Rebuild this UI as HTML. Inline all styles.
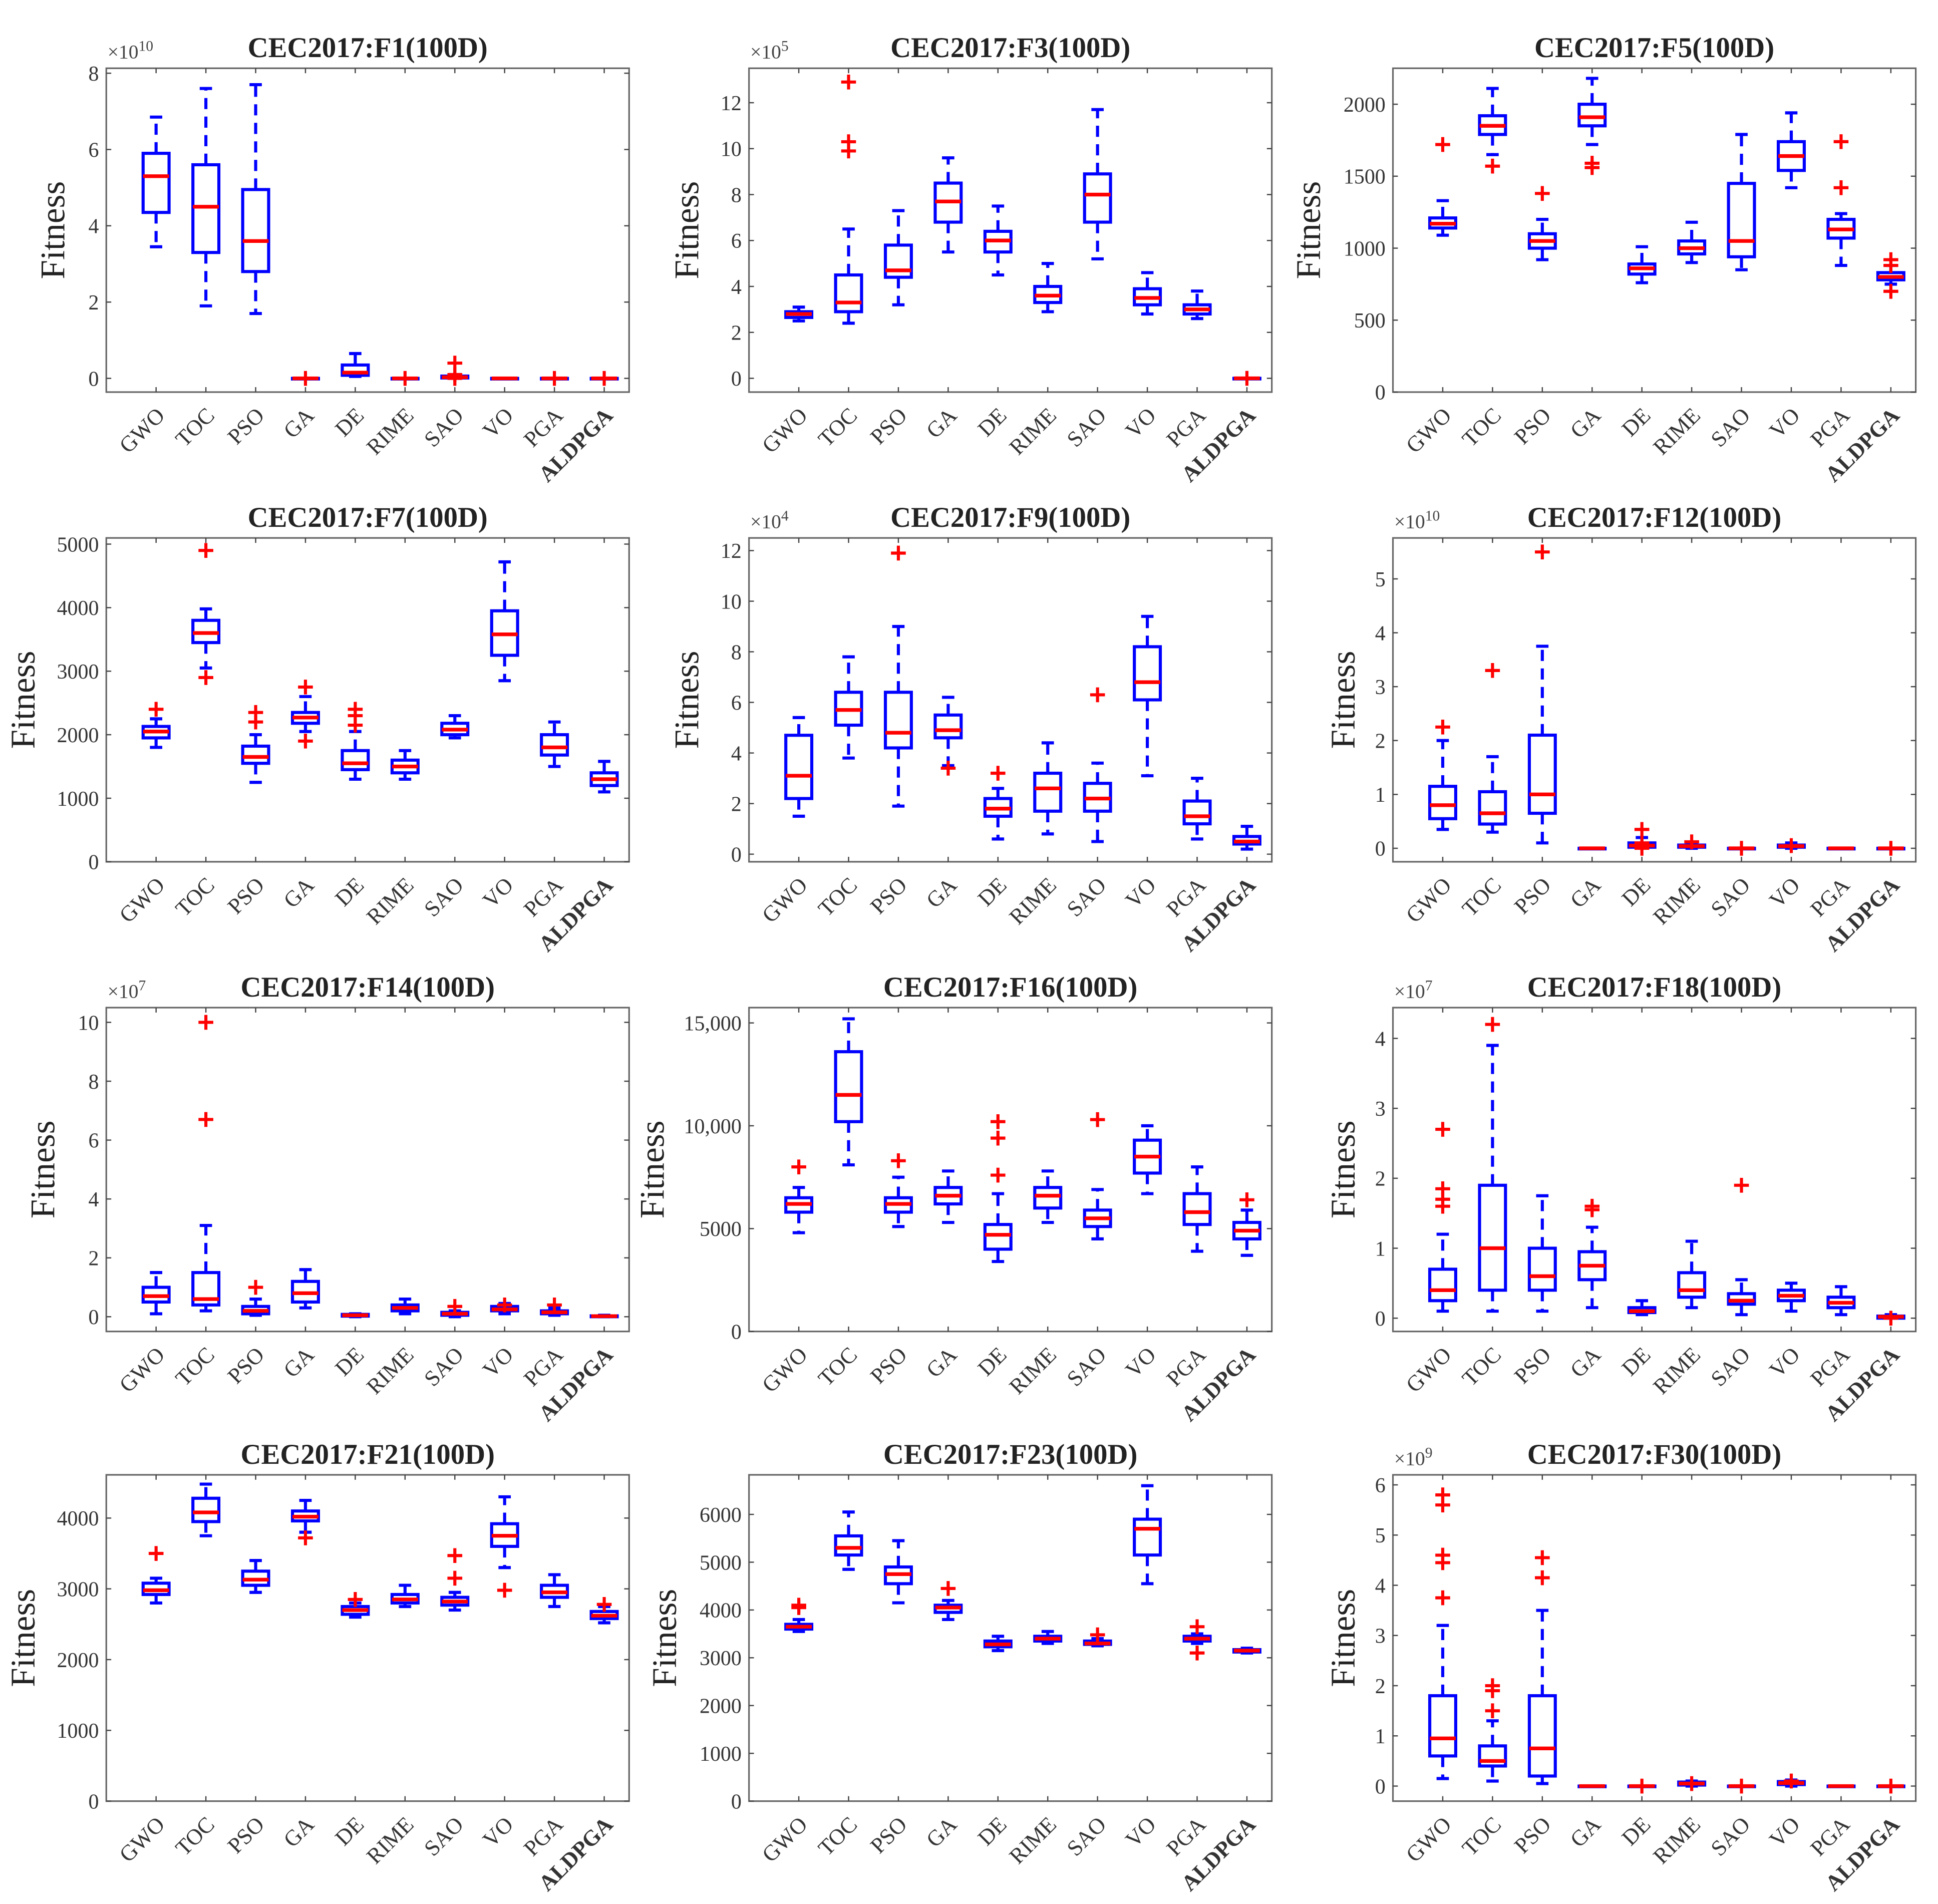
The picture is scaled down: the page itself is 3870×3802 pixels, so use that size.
<!DOCTYPE html>
<html><head><meta charset="utf-8"><style>
html,body{margin:0;padding:0;background:#fff;}
svg{display:block;font-family:"Liberation Serif",serif;}
</style></head><body>
<svg id="chart" xmlns="http://www.w3.org/2000/svg" width="3870" height="3802" viewBox="0 0 1568 1540"></svg>
<script>
const categories = ["GWO","TOC","PSO","GA","DE","RIME","SAO","VO","PGA","ALDPGA"];
// each stat: [lowWhisker, q1, median, q3, highWhisker, [outliers]]
const f1Stats = [[3.45,4.35,5.3,5.9,6.85,[]],[1.9,3.3,4.5,5.6,7.6,[]],[1.7,2.8,3.6,4.95,7.7,[]],[0,0,0,0,0,[0]],[0.05,0.08,0.15,0.35,0.65,[]],[0,0,0,0,0,[0]],[0,0.01,0.03,0.06,0.1,[0.4,0.1,0]],[0,0,0,0,0,[]],[0,0,0,0,0,[0]],[0,0,0,0,0,[0]]];
const f3Stats = [[2.5,2.65,2.8,2.9,3.1,[]],[2.4,2.9,3.3,4.5,6.5,[12.9,10.3,9.9]],[3.2,4.4,4.7,5.8,7.3,[]],[5.5,6.8,7.7,8.5,9.6,[]],[4.5,5.5,6.0,6.4,7.5,[]],[2.9,3.3,3.6,4.0,5.0,[]],[5.2,6.8,8.0,8.9,11.7,[]],[2.8,3.2,3.5,3.9,4.6,[]],[2.6,2.8,3.0,3.2,3.8,[]],[0,0,0,0,0,[0]]];
const f5Stats = [[1090,1140,1170,1210,1330,[1720]],[1650,1790,1850,1920,2110,[1570]],[920,1000,1050,1100,1200,[1380]],[1720,1850,1910,2000,2180,[1590,1560]],[760,820,860,890,1010,[]],[900,960,1000,1050,1180,[]],[850,940,1050,1450,1790,[]],[1420,1540,1640,1740,1940,[]],[880,1070,1130,1200,1240,[1740,1420]],[750,780,800,830,880,[920,880,700]]];
const f7Stats = [[1800,1950,2050,2130,2250,[2400]],[3050,3450,3600,3800,3980,[4900,2900]],[1250,1550,1650,1820,2000,[2350,2200]],[2050,2180,2270,2350,2600,[2750,1900]],[1300,1450,1550,1750,2050,[2400,2300,2150]],[1300,1400,1500,1600,1750,[]],[1950,2000,2080,2180,2300,[]],[2850,3250,3580,3950,4720,[]],[1500,1680,1800,2000,2200,[]],[1100,1200,1300,1400,1580,[]]];
const f9Stats = [[1.5,2.2,3.1,4.7,5.4,[]],[3.8,5.1,5.7,6.4,7.8,[]],[1.9,4.2,4.8,6.4,9.0,[11.9]],[3.5,4.6,4.9,5.5,6.2,[3.4]],[0.6,1.5,1.8,2.2,2.6,[3.2]],[0.8,1.7,2.6,3.2,4.4,[]],[0.5,1.7,2.2,2.8,3.6,[6.3]],[3.1,6.1,6.8,8.2,9.4,[]],[0.6,1.2,1.5,2.1,3.0,[]],[0.2,0.4,0.5,0.7,1.1,[]]];
const f12Stats = [[0.35,0.55,0.8,1.15,2.0,[2.25]],[0.3,0.45,0.65,1.05,1.7,[3.3]],[0.1,0.65,1.0,2.1,3.75,[5.5]],[0,0,0,0,0,[]],[0,0.02,0.05,0.1,0.2,[0.35,0.1,0]],[0,0.02,0.04,0.06,0.1,[0.12]],[0,0,0,0,0,[0]],[0,0.02,0.04,0.06,0.1,[0.05]],[0,0,0,0,0,[]],[0,0,0,0,0,[0]]];
const f14Stats = [[0.1,0.5,0.7,1.0,1.5,[]],[0.2,0.4,0.6,1.5,3.1,[10,6.7]],[0.05,0.1,0.2,0.35,0.6,[1.0]],[0.3,0.5,0.8,1.2,1.6,[]],[0,0.02,0.05,0.08,0.1,[]],[0.1,0.2,0.3,0.4,0.6,[]],[0,0.05,0.1,0.15,0.2,[0.35]],[0.1,0.2,0.25,0.35,0.45,[0.4]],[0.05,0.1,0.15,0.2,0.3,[0.4]],[0,0,0.02,0.03,0.05,[]]];
const f16Stats = [[4800,5800,6200,6500,7000,[8000]],[8100,10200,11500,13600,15200,[]],[5100,5800,6200,6500,7500,[8300]],[5300,6200,6600,7000,7800,[]],[3400,4000,4700,5200,6700,[10200,9400,7600]],[5300,6000,6600,7000,7800,[]],[4500,5100,5500,5900,6900,[10300]],[6700,7700,8500,9300,10000,[]],[3900,5200,5800,6700,8000,[]],[3700,4500,4900,5300,5900,[6400]]];
const f18Stats = [[0.1,0.25,0.4,0.7,1.2,[2.7,1.85,1.7,1.6]],[0.1,0.4,1.0,1.9,3.9,[4.2]],[0.1,0.4,0.6,1.0,1.75,[]],[0.15,0.55,0.75,0.95,1.3,[1.6,1.55]],[0.05,0.08,0.1,0.15,0.25,[]],[0.15,0.3,0.4,0.65,1.1,[]],[0.05,0.2,0.25,0.35,0.55,[1.9]],[0.1,0.25,0.32,0.4,0.5,[]],[0.05,0.15,0.22,0.3,0.45,[]],[0,0,0.02,0.03,0.05,[0]]];
const f21Stats = [[2800,2920,2980,3080,3150,[3500]],[3750,3950,4080,4280,4480,[]],[2950,3050,3130,3250,3400,[]],[3800,3960,4020,4100,4250,[3720]],[2600,2640,2700,2750,2800,[2850]],[2750,2800,2850,2920,3050,[]],[2700,2770,2820,2880,2950,[3470,3150]],[3300,3600,3750,3920,4300,[2980]],[2750,2880,2950,3050,3200,[]],[2520,2580,2620,2680,2750,[2780]]];
const f23Stats = [[3550,3600,3650,3700,3800,[4050,4100]],[4850,5150,5300,5550,6050,[]],[4150,4550,4750,4900,5450,[]],[3800,3950,4050,4100,4200,[4450]],[3150,3230,3280,3350,3450,[]],[3300,3350,3400,3450,3550,[]],[3250,3280,3300,3350,3400,[3480]],[4550,5150,5700,5900,6600,[]],[3300,3350,3400,3450,3500,[3650,3100]],[3100,3120,3150,3170,3200,[]]];
const f30Stats = [[0.15,0.6,0.95,1.8,3.2,[5.8,5.6,4.6,4.45,3.75]],[0.1,0.4,0.5,0.8,1.3,[2.0,1.9,1.5]],[0.05,0.2,0.75,1.8,3.5,[4.55,4.15]],[0,0,0,0,0,[]],[0,0,0,0,0,[0]],[0,0.02,0.05,0.08,0.1,[0.05]],[0,0,0,0,0,[0]],[0,0.03,0.06,0.09,0.12,[0.1]],[0,0,0,0,0,[]],[0,0,0,0,0,[0]]];
const f1Ticks=[0,2,4,6,8], f3Ticks=[0,2,4,6,8,10,12], f5Ticks=[0,500,1000,1500,2000], f7Ticks=[0,1000,2000,3000,4000,5000];
const f9Ticks=[0,2,4,6,8,10,12], f12Ticks=[0,1,2,3,4,5], f14Ticks=[0,2,4,6,8,10], f16Ticks=[0,5000,10000,15000];
const f16TickLabels=["0","5000","10,000","15,000"];
const f18Ticks=[0,1,2,3,4], f21Ticks=[0,1000,2000,3000,4000], f23Ticks=[0,1000,2000,3000,4000,5000,6000], f30Ticks=[0,1,2,3,4,5,6];

const panels = [
 {t:"CEC2017:F1(100D)",c:0,r:0,ymin:-0.36,ymax:8.13,ticks:f1Ticks,exp:"10",yl:52,d:f1Stats},
 {t:"CEC2017:F3(100D)",c:1,r:0,ymin:-0.6,ymax:13.5,ticks:f3Ticks,exp:"5",yl:565,d:f3Stats},
 {t:"CEC2017:F5(100D)",c:2,r:0,ymin:0,ymax:2250,ticks:f5Ticks,exp:null,yl:1068,d:f5Stats},
 {t:"CEC2017:F7(100D)",c:0,r:1,ymin:0,ymax:5097,ticks:f7Ticks,exp:null,yl:28,d:f7Stats},
 {t:"CEC2017:F9(100D)",c:1,r:1,ymin:-0.3,ymax:12.5,ticks:f9Ticks,exp:"4",yl:565,d:f9Stats},
 {t:"CEC2017:F12(100D)",c:2,r:1,ymin:-0.25,ymax:5.76,ticks:f12Ticks,exp:"10",yl:1096,d:f12Stats},
 {t:"CEC2017:F14(100D)",c:0,r:2,ymin:-0.5,ymax:10.5,ticks:f14Ticks,exp:"7",yl:44,d:f14Stats},
 {t:"CEC2017:F16(100D)",c:1,r:2,ymin:0,ymax:15744,ticks:f16Ticks,labels:f16TickLabels,exp:null,yl:537,d:f16Stats},
 {t:"CEC2017:F18(100D)",c:2,r:2,ymin:-0.19,ymax:4.44,ticks:f18Ticks,exp:"7",yl:1096,d:f18Stats},
 {t:"CEC2017:F21(100D)",c:0,r:3,ymin:0,ymax:4611,ticks:f21Ticks,exp:null,yl:28,d:f21Stats},
 {t:"CEC2017:F23(100D)",c:1,r:3,ymin:0,ymax:6828,ticks:f23Ticks,exp:null,yl:547,d:f23Stats},
 {t:"CEC2017:F30(100D)",c:2,r:3,ymin:-0.3,ymax:6.2,ticks:f30Ticks,exp:"9",yl:1096,d:f30Stats}
];
const colX=[86,606,1127], rowY=[55,435,815,1193], PW=423, PH=262;
const NS="http://www.w3.org/2000/svg";
const svg=document.getElementById('chart');
function mk(tag,attrs,parent,text){const e=document.createElementNS(NS,tag);for(const k in attrs)e.setAttribute(k,attrs[k]);if(text!==undefined)e.textContent=text;parent.appendChild(e);return e;}

panels.forEach((p,pi)=>{
  const L=colX[p.c], T=rowY[p.r], B=T+PH+(p.r===3?2:0), R=L+PW;
  const g=mk('g',{},svg);
  
  
  const xs=i=>L+(i+1)*PW/10.5;
  const ys=v=>B-(v-p.ymin)/(p.ymax-p.ymin)*(B-T);
  const fr=mk('rect',{x:L,y:T,width:PW,height:B-T,fill:'none',stroke:'#666',"stroke-width":1.3},g);
  
  
  const tt=mk('text',{x:L+PW/2,y:T-9,"text-anchor":"middle","font-size":23,"font-weight":"bold",fill:'#222'},g,p.t);
  
  
  if(p.exp){
    const ex=mk('text',{x:L+1,y:T-8,"font-size":16,fill:'#444'},g);
    
    
    mk('tspan',{},ex,'×10');
    mk('tspan',{dy:-6,"font-size":12},ex,p.exp);
  }
  const yl=mk('text',{x:p.yl,y:(T+B)/2,"text-anchor":"middle","font-size":28,fill:'#222',transform:`rotate(-90 ${p.yl} ${(T+B)/2})`},g,'Fitness');
  
  
  p.ticks.forEach((v,k)=>{
    const y=ys(v);
    mk('line',{x1:L,x2:L+4,y1:y,y2:y,stroke:'#444'},g);
    mk('line',{x1:R-4,x2:R,y1:y,y2:y,stroke:'#444'},g);
    const tl=mk('text',{x:L-6,y:y+6,"text-anchor":"end","font-size":17,fill:'#333'},g,p.labels?p.labels[k]:String(v));
    
    
  });
  categories.forEach((c,i)=>{
    const x=xs(i);
    mk('line',{x1:x,x2:x,y1:B,y2:B-4,stroke:'#444'},g);
    mk('line',{x1:x,x2:x,y1:T,y2:T+4,stroke:'#444'},g);
    const cl=mk('text',{x:x+8,y:B+20,"text-anchor":"end","font-size":18,fill:'#333',"font-weight":c==="ALDPGA"?"bold":"normal",transform:`rotate(-45 ${x+8} ${B+20})`},g,c);
    
    
    const s=p.d[i]; const hw=10.5;
    const bg=mk('g',{},g);
    
    
    mk('line',{x1:x,x2:x,y1:ys(s[3]),y2:ys(s[4]),stroke:'#0000ff',"stroke-width":2.5,"stroke-dasharray":"9,6"},bg);
    mk('line',{x1:x,x2:x,y1:ys(s[1]),y2:ys(s[0]),stroke:'#0000ff',"stroke-width":2.5,"stroke-dasharray":"9,6"},bg);
    mk('line',{x1:x-5,x2:x+5,y1:ys(s[4]),y2:ys(s[4]),stroke:'#0000ff',"stroke-width":2.5},bg);
    mk('line',{x1:x-5,x2:x+5,y1:ys(s[0]),y2:ys(s[0]),stroke:'#0000ff',"stroke-width":2.5},bg);
    mk('rect',{x:x-hw,y:ys(s[3]),width:2*hw,height:Math.max(0.5,ys(s[1])-ys(s[3])),fill:'none',stroke:'#0000ff',"stroke-width":2.5},bg);
    mk('line',{x1:x-hw,x2:x+hw,y1:ys(s[2]),y2:ys(s[2]),stroke:'#ff0000',"stroke-width":3},bg);
    s[5].forEach(o=>{
      const oy=ys(o);
      const m=mk('path',{d:`M${x-6} ${oy}H${x+6}M${x} ${oy-6}V${oy+6}`,stroke:'#ff0000',"stroke-width":2.5,fill:'none'},bg);
      
      
    });
  });
});
</script>
</body></html>
